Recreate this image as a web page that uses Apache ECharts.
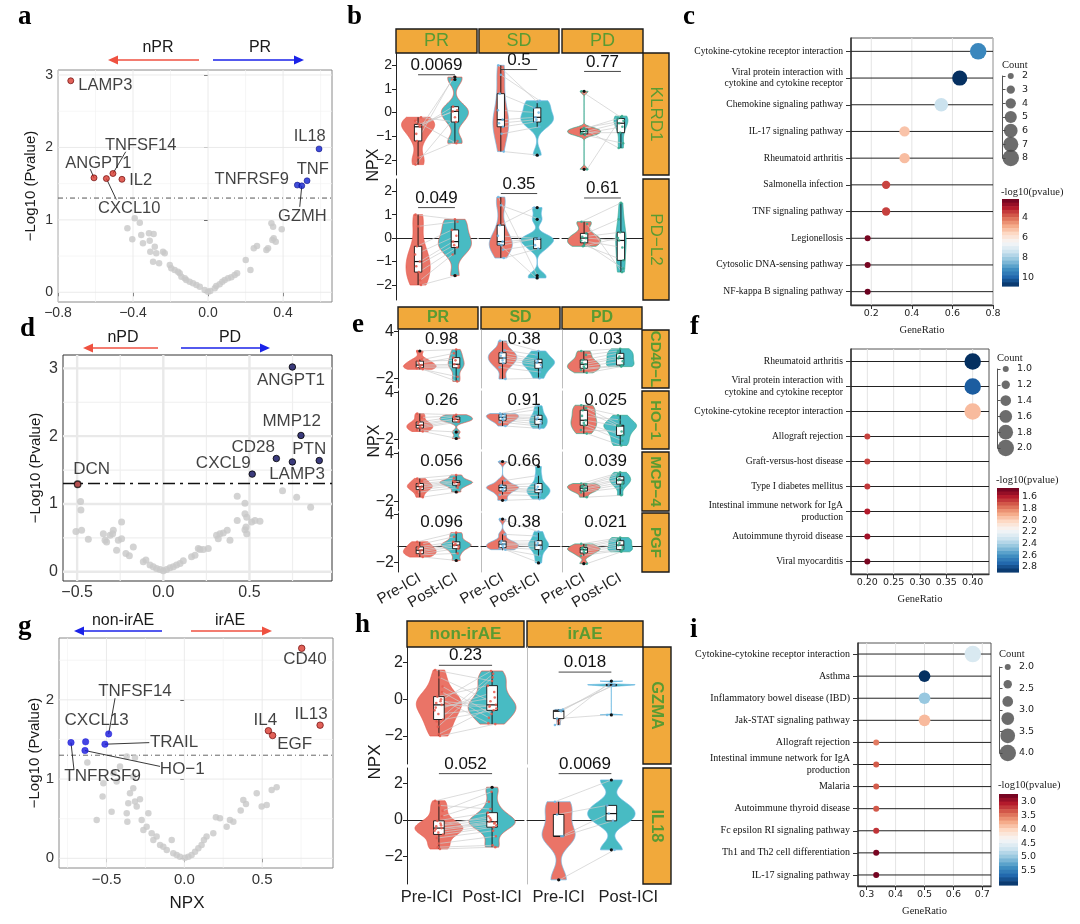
<!DOCTYPE html>
<html><head><meta charset="utf-8">
<script src="https://cdn.jsdelivr.net/npm/echarts@6/dist/echarts.min.js"></script>
<style>html,body{margin:0;padding:0;background:#fff}#c{width:1080px;height:924px}</style>
</head><body><div id="c"></div>
<script>
const FONT = '"Liberation Sans", Arial, sans-serif';
const SERIF = '"Liberation Serif", "Times New Roman", serif';
const DJV = '"DejaVu Sans", sans-serif';

/* ================= DATA ================= */
// ---- panel a (volcano: nPR vs PR) ----
const aGrey = [[-0.43,0.883],[-0.404,0.731],[-0.391,1.021],[-0.364,0.961],[-0.356,0.791],[-0.347,0.676],[-0.315,0.814],[-0.311,0.713],[-0.29,0.805],[-0.284,0.63],[-0.308,0.561],[-0.276,0.538],[-0.293,0.423],[-0.261,0.4],[-0.24,0.561],[-0.231,0.538],[-0.204,0.377],[-0.196,0.331],[-0.178,0.308],[-0.16,0.285],[-0.151,0.262],[-0.142,0.216],[-0.124,0.193],[-0.116,0.17],[-0.098,0.147],[-0.08,0.124],[-0.062,0.101],[-0.044,0.078],[-0.018,0.032],[0.0,0.009],[0.012,0.018],[0.036,0.055],[0.044,0.087],[0.062,0.11],[0.076,0.147],[0.089,0.17],[0.107,0.193],[0.124,0.207],[0.142,0.239],[0.155,0.262],[0.201,0.446],[0.226,0.308],[0.244,0.607],[0.261,0.639],[0.311,0.584],[0.32,0.607],[0.343,0.722],[0.35,0.745],[0.338,0.952],[0.347,0.906],[0.361,0.699],[0.393,0.869]];
const aGenes = ['LAMP3','ANGPT1','CXCL10','TNFSF14','IL2','IL18','TNF','TNFRSF9','GZMH'];
const aX = [-0.732,-0.608,-0.542,-0.507,-0.459,0.592,0.528,0.476,0.5];
const aY = [2.92,1.58,1.57,1.64,1.56,1.98,1.54,1.48,1.47];
const aUp = [0,0,0,0,0,1,1,1,1];
const aLabX = [-0.548,-0.585,-0.42,-0.359,-0.359,0.542,0.558,0.233,0.503];
const aLabY = [2.85,1.78,1.16,2.03,1.54,2.15,1.69,1.56,1.05];
const aLead = [null,[-0.628,1.70],[-0.489,1.28],[-0.439,1.94],null,null,null,null,[0.489,1.18]];

// ---- panel d (volcano: nPD vs PD) ----
const dGrey = [[-0.507,0.595],[-0.48,1.034],[-0.478,0.912],[-0.474,0.61],[-0.435,0.478],[-0.348,0.561],[-0.338,0.463],[-0.329,0.439],[-0.309,0.537],[-0.294,0.561],[-0.271,0.317],[-0.261,0.463],[-0.242,0.488],[-0.29,0.61],[-0.242,0.732],[-0.217,0.268],[-0.197,0.234],[-0.174,0.366],[-0.116,0.146],[-0.101,0.171],[-0.077,0.098],[-0.058,0.073],[-0.039,0.049],[-0.019,0.034],[0.0,0.015],[0.019,0.034],[0.039,0.059],[0.058,0.073],[0.077,0.098],[0.097,0.122],[0.116,0.161],[0.164,0.22],[0.184,0.244],[0.203,0.341],[0.213,0.327],[0.232,0.327],[0.261,0.341],[0.309,0.537],[0.319,0.488],[0.329,0.561],[0.348,0.571],[0.371,0.61],[0.387,0.463],[0.429,1.112],[0.474,1.01],[0.429,0.756],[0.484,0.805],[0.48,0.659],[0.484,0.561],[0.474,0.62],[0.513,0.732],[0.532,0.756],[0.561,0.746],[0.692,1.195],[0.774,1.098],[0.855,0.951],[0.474,0.854]];
const dGenes = ['ANGPT1','MMP12','CD28','LAMP3','PTN','CXCL9','DCN'];
const dX = [0.749,0.799,0.656,0.749,0.905,0.516,-0.497];
const dY = [3.02,2.01,1.67,1.62,1.64,1.44,1.29];
const dUp = [1,1,1,1,1,1,0];
const dLabX = [0.741,0.745,0.522,0.776,0.847,0.348,-0.416];
const dLabY = [2.83,2.22,1.83,1.44,1.80,1.60,1.51];

// ---- panel g (volcano: non-irAE vs irAE) ----
const gGrey = [[-0.623,1.208],[-0.563,0.484],[-0.525,0.779],[-0.52,0.947],[-0.467,0.589],[-0.456,1.074],[-0.37,0.568],[-0.366,0.463],[-0.36,0.695],[-0.349,0.821],[-0.328,0.884],[-0.317,0.716],[-0.306,0.653],[-0.285,0.745],[-0.274,0.484],[-0.263,0.358],[-0.242,0.4],[-0.231,0.568],[-0.21,0.316],[-0.199,0.232],[-0.178,0.274],[-0.156,0.168],[-0.135,0.147],[-0.113,0.105],[-0.081,0.232],[-0.071,0.063],[-0.049,0.042],[-0.028,0.021],[0.004,0.008],[0.026,0.021],[0.047,0.042],[0.069,0.084],[0.09,0.126],[0.111,0.168],[0.126,0.232],[0.143,0.274],[0.186,0.316],[0.203,0.518],[0.229,0.505],[0.272,0.4],[0.293,0.484],[0.315,0.463],[0.362,0.602],[0.379,0.737],[0.396,0.686],[0.465,0.821],[0.497,0.653],[0.529,0.674],[0.561,0.863],[0.593,0.897],[-0.37,1.284],[-0.413,1.158],[-0.317,1.27],[-0.435,0.968],[-0.328,1.032]];
const gGenes = ['TNFRSF9','CXCL13','HO\u22121','TNFSF14','TRAIL','CD40','IL13','IL4','EGF'];
const gX = [-0.728,-0.634,-0.638,-0.486,-0.51,0.754,0.872,0.54,0.567];
const gY = [1.46,1.47,1.36,1.57,1.44,2.65,1.68,1.61,1.55];
const gUp = [0,0,0,0,0,1,1,1,1];
const gLabX = [-0.525,-0.563,-0.013,-0.317,-0.066,0.775,0.814,0.52,0.709];
const gLabY = [1.03,1.74,1.12,2.11,1.47,2.51,1.82,1.74,1.44];
const gLead = [[-0.709,1.12],null,[-0.156,1.16],[-0.445,2.02],[-0.225,1.46],null,null,null,null];

// ---- panel c (KEGG, PR) ----
const cTerms = ['Cytokine-cytokine receptor interaction','Viral protein interaction with\ncytokine and cytokine receptor','Chemokine signaling pathway','IL-17 signaling pathway','Rheumatoid arthritis','Salmonella infection','TNF signaling pathway','Legionellosis','Cytosolic DNA-sensing pathway','NF-kappa B signaling pathway'];
const cRatio = [0.727,0.636,0.545,0.364,0.364,0.273,0.273,0.182,0.182,0.182];
const cCount = [8,7,6,4,4,3,3,2,2,2];
const cLogP = [9.3,10.8,7.4,5.2,5.1,3.5,3.45,2.3,2.3,2.15];
const cXTicks = [0.2,0.4,0.6,0.8];
const cSizeBreaks = [2,3,4,5,6,7,8];
const cColorTicks = [4,6,8,10];

// ---- panel f (KEGG, PD) ----
const fTerms = ['Rheumatoid arthritis','Viral protein interaction with\ncytokine and cytokine receptor','Cytokine-cytokine receptor interaction','Allograft rejection','Graft-versus-host disease','Type I diabetes mellitus','Intestinal immune network for IgA\nproduction','Autoimmune thyroid disease','Viral myocarditis'];
const fRatio = [0.4,0.4,0.4,0.2,0.2,0.2,0.2,0.2,0.2];
const fCount = [2,2,2,1,1,1,1,1,1];
const fLogP = [2.89,2.77,1.94,1.68,1.68,1.66,1.60,1.565,1.486];
const fXTicks = [0.2,0.25,0.3,0.35,0.4];
const fSizeBreaks = [1.0,1.2,1.4,1.6,1.8,2.0];
const fColorTicks = [1.6,1.8,2.0,2.2,2.4,2.6,2.8];

// ---- panel i (KEGG, irAE) ----
const iTerms = ['Cytokine-cytokine receptor interaction','Asthma','Inflammatory bowel disease (IBD)','Jak-STAT signaling pathway','Allograft rejection','Intestinal immune network for IgA\nproduction','Malaria','Autoimmune thyroid disease','Fc epsilon RI signaling pathway','Th1 and Th2 cell differentiation','IL-17 signaling pathway'];
const iRatio = [0.667,0.5,0.5,0.5,0.333,0.333,0.333,0.333,0.333,0.333,0.333];
const iCount = [4,3,3,3,2,2,2,2,2,2,2];
const iLogP = [4.63,6.02,5.0,3.84,3.51,3.36,3.36,3.35,3.18,2.8,2.78];
const iXTicks = [0.3,0.4,0.5,0.6,0.7];
const iSizeBreaks = [2.0,2.4,2.8,3.2,3.6,4.0];
const iSizeTicks = [2.0,2.5,3.0,3.5,4.0];
const iColorTicks = [3.0,3.5,4.0,4.5,5.0,5.5];

// ---- panel b (paired NPX, columns PR / SD / PD) ----
const bKLRD1_pre  = [[-0.6,-2.2,-0.5,-1.2,-0.2,-0.9,-1.9,-0.55,-0.35],[-0.3,2.0,-0.9,0.8,-1.65,-0.45,1.6,-0.6,0.1],[-0.8,0.9,-0.95,-0.7,-2.4,-0.85,-0.65,-0.75,-0.9]];
const bKLRD1_post = [[0.25,-0.2,0.1,1.4,-0.4,1.5,-1.2,0.05,-1.3],[-0.2,0.45,-0.6,0.2,-1.8,-0.3,0.5,-0.4,0.0],[-0.45,-0.2,-1.3,-0.25,-0.15,-0.85,-0.35,-1.5,-0.6]];
const bPDL2_pre   = [[-1.0,1.0,-1.45,-0.35,-2.0,-1.2,0.5,-1.8,-0.7],[-0.15,1.75,-0.3,0.55,-0.85,-0.25,1.4,-0.5,0.1],[0.0,0.7,-0.2,-0.35,0.6,0.05,-0.3,0.2,-0.1]];
const bPDL2_post  = [[-0.15,0.8,-0.4,0.35,-1.6,-0.3,0.7,-0.7,0.1],[-0.05,-1.6,0.0,1.3,-0.45,-1.7,0.8,-0.3,-0.02],[-0.1,1.5,-1.3,0.0,-1.45,0.25,-0.95,0.8,-0.4]];
const bPval = [['0.0069','0.5','0.77'],['0.049','0.35','0.61']];
const bPvalY = [[1.6,1.82,1.74],[1.3,1.9,1.71]];

// ---- panel e ----
const eCD40L_pre  = [[-0.3,1.5,-0.65,-0.1,-0.85,0.2,-0.45,0.4,-0.7],[0.6,2.8,-0.08,1.28,-2.1,0.9,0.3,1.6,-0.6],[-0.2,1.5,-0.72,0.35,-1.3,0.0,-0.5,1.0,-0.9]];
const eCD40L_post = [[-0.2,1.7,-0.65,0.65,-2.4,0.3,-0.4,1.2,-1.8],[0.0,1.5,-0.72,0.44,-2.0,0.2,-0.3,1.0,-1.2],[0.56,1.8,-0.3,1.2,-0.5,0.8,0.2,1.5,-0.4]];
const eHO1_pre    = [[-0.2,1.3,-0.55,0.22,-1.0,0.0,-0.4,0.8,-0.8],[0.82,1.3,0.44,1.17,-0.3,0.9,0.6,1.2,0.2],[0.44,2.37,-0.2,1.72,-1.27,1.0,0.1,2.0,-0.8]];
const eHO1_post   = [[0.56,1.15,0.22,0.86,-1.9,0.6,0.4,1.0,-1.07],[0.56,2.3,-0.08,1.08,-0.6,0.8,0.3,1.8,-0.3],[-0.3,-0.2,-2.2,-0.25,-2.8,0.5,-1.5,1.08,-1.0]];
const eMCP4_pre   = [[-0.17,0.86,-0.55,0.22,-1.5,0.0,-0.3,0.5,-0.9],[-0.3,3.0,-0.72,0.0,-1.9,-0.1,-0.5,0.6,-1.2],[-0.37,0.22,-0.72,-0.08,-1.5,-0.2,-0.5,0.1,-0.9]];
const eMCP4_post  = [[0.35,1.3,0.0,0.56,-0.85,0.45,0.2,0.9,-0.3],[-0.55,2.37,-0.94,0.22,-1.75,-0.2,-0.7,1.2,-1.3],[0.65,1.63,0.14,1.08,-1.27,0.8,0.4,1.4,-0.3]];
const ePGF_pre    = [[-0.5,0.56,-0.94,-0.08,-1.36,-0.3,-0.7,0.3,-1.1],[0.27,3.43,-0.17,0.65,-0.43,0.4,0.1,1.5,-0.3],[-0.43,0.3,-0.85,-0.17,-2.2,-0.3,-0.6,0.1,-1.2]];
const ePGF_post   = [[0.14,1.72,-0.3,0.56,-1.8,0.3,0.0,1.2,-0.9],[0.14,1.85,-0.42,0.7,-2.1,0.4,-0.1,1.3,-1.2],[0.14,1.1,-0.42,0.7,-0.7,0.4,-0.1,0.9,-0.5]];
const ePval = [['0.98','0.38','0.03'],['0.26','0.91','0.025'],['0.056','0.66','0.039'],['0.096','0.38','0.021']];
const ePvalY = [[3.0,3.0,3.0],[3.0,3.0,3.0],[3.0,3.0,3.0],[3.0,3.0,3.0]];

// ---- panel h (columns non-irAE / irAE) ----
const hGZMA_pre  = [[-0.3,1.6,-2.0,0.15,-1.1,-0.2,-1.9,0.4,-0.6,-0.1,-1.5,0.7,-0.45,0.0,-1.2,1.2,-0.8],[-0.65,-1.4,-0.6,-1.05,-0.55]];
const hGZMA_post = [[-0.4,1.0,-1.35,0.75,-0.6,1.55,-0.3,-1.0,0.4,-0.35,1.2,-0.8,0.1,-1.3,1.4,-0.1,-0.5],[0.8,1.0,0.8,-0.85,0.75]];
const hIL18_pre  = [[-0.45,1.05,-1.6,-0.05,-0.8,-0.35,-1.3,0.2,-0.6,-0.2,-1.5,0.5,-0.5,-0.3,-1.0,0.8,-0.7],[-0.9,1.0,-3.3,0.3,-0.9]];
const hIL18_post = [[-0.1,1.8,-1.5,0.4,-0.4,0.0,-0.9,1.0,-0.2,0.1,-1.4,1.55,-0.15,0.2,-0.6,0.6,-0.3],[0.35,2.2,-1.65,0.8,-0.05]];
const hPval = [['0.23','0.018'],['0.052','0.0069']];
const hPvalY = [[1.86,1.49],[2.55,2.55]];

/* ================= HELPERS ================= */
const grids = [], xAxes = [], yAxes = [], series = [], graphics = [];
const JIT = [0.05,-0.07,0.02,-0.03,0.08,-0.05,0.0,0.06,-0.08,0.03,-0.02,0.07,-0.06,0.04,-0.04,0.01,-0.01];
const FILL_PRE = '#EA7467', FILL_POST = '#48BBC3';
const STRIP = '#F1A93B', STRIP_TXT = '#5a9b32';
const RDBU = ['#67001f','#b2182b','#d6604d','#f4a582','#fddbc7','#f7f7f7','#d1e5f0','#92c5de','#4393c3','#2166ac','#053061'];

function addGrid(g, xa, ya) {
  const i = grids.length; grids.push(g);
  xa.gridIndex = i; ya.gridIndex = i; xAxes.push(xa); yAxes.push(ya); return i;
}
function minus(v, d) { const s = d == null ? String(Math.abs(v)) : Math.abs(v).toFixed(d); return (v < 0 ? '\u2212' : '') + s; }
function hex2rgb(h) { return [parseInt(h.slice(1,3),16), parseInt(h.slice(3,5),16), parseInt(h.slice(5,7),16)]; }
function pal(t) {
  t = Math.max(0, Math.min(1, t)); const s = t * 10; const i = Math.min(9, Math.floor(s)); const f = s - i;
  const a = hex2rgb(RDBU[i]), b = hex2rgb(RDBU[i+1]);
  return 'rgb(' + a.map((v,k) => Math.round(v + (b[k]-v)*f)).join(',') + ')';
}
function gText(x, y, text, o) {
  o = o || {};
  graphics.push({type:'text', x:x, y:y, rotation:o.rot||0, silent:true, z:10,
    style:{text:text, fill:o.color||'#1a1a1a', fontSize:o.size||14, fontFamily:o.font||FONT, fontWeight:o.bold?'bold':'normal', align:o.align||'center', verticalAlign:o.va||'middle'}});
}
function gLine(x1,y1,x2,y2,color,w) { graphics.push({type:'line', silent:true, shape:{x1,y1,x2,y2}, style:{stroke:color, lineWidth:w}}); }
function gArrow(x1, x2, y, color) {
  const dir = x2 > x1 ? 1 : -1;
  gLine(x1, y, x2 - dir*7, y, color, 1.6);
  graphics.push({type:'polygon', silent:true, shape:{points:[[x2,y],[x2-dir*10,y-4.5],[x2-dir*10,y+4.5]]}, style:{fill:color}});
}
function gStrip(x0, y0, x1, y1, text, vertical, bold, size) {
  graphics.push({type:'rect', silent:true, shape:{x:x0, y:y0, width:x1-x0, height:y1-y0}, style:{fill:STRIP, stroke:'#1a1a1a', lineWidth:1.4}});
  gText((x0+x1)/2, (y0+y1)/2, text, {color:STRIP_TXT, size:size, bold:bold, rot: vertical ? -Math.PI/2 : 0});
}
// reference lines drawn through the grid's own scales, under the marks
function guideSeries(gi, x0, y0, lines) {
  series.push({type:'custom', xAxisIndex:gi, yAxisIndex:gi, data:[[x0, y0]], silent:true, z:1,
    renderItem: (params, api) => {
      const cs = params.coordSys, ch = [];
      lines.forEach(l => {
        const st = {stroke:l.color, lineWidth:l.width, lineDash:l.dash || null};
        if (l.x !== undefined) {
          const px = api.coord([l.x, y0])[0];
          ch.push({type:'line', shape:{x1:px, y1:cs.y, x2:px, y2:cs.y + cs.height}, style:st});
        } else {
          const py = api.coord([x0, l.y])[1];
          ch.push({type:'line', shape:{x1:cs.x, y1:py, x2:cs.x + cs.width, y2:py}, style:st});
        }
      });
      return {type:'group', children:ch};
    }});
}
function quant(s, p) { const h = (s.length-1)*p; const lo = Math.floor(h); const hi = Math.ceil(h); return s[lo] + (s[hi]-s[lo])*(h-lo); }
function boxStats(v) {
  const s = v.slice().sort((a,b)=>a-b);
  const q1 = quant(s,0.25), q2 = quant(s,0.5), q3 = quant(s,0.75), iqr = q3-q1;
  const lf = q1 - 1.5*iqr, uf = q3 + 1.5*iqr;
  const inside = s.filter(x => x >= lf && x <= uf);
  return {q1, q2, q3, lo: inside[0], hi: inside[inside.length-1], out: s.filter(x => x < lf || x > uf)};
}
function kde(v) {
  const s = v.slice().sort((a,b)=>a-b), n = s.length;
  const mean = s.reduce((a,b)=>a+b,0)/n;
  const sd = Math.sqrt(s.reduce((a,b)=>a+(b-mean)*(b-mean),0)/(n-1));
  const iqr = quant(s,0.75) - quant(s,0.25);
  let lo = Math.min(sd, iqr/1.34); if (!(lo > 0)) lo = sd > 0 ? sd : 0.1;
  const bw = 0.9*lo*Math.pow(n,-0.2);
  const pts = [], N = 140;
  for (let k = 0; k <= N; k++) {
    const y = s[0] + (s[n-1]-s[0])*k/N; let d = 0;
    for (const x of s) { const z = (y-x)/bw; d += Math.exp(-0.5*z*z); }
    pts.push([y, d/(n*bw*Math.sqrt(2*Math.PI))]);
  }
  return pts;
}

/* ---------- violin facet ---------- */
function violinRender(pre, post, accent, pText, pY, withLine, pFs, px) {
  return function (params, api) {
    const groups = [pre, post], fills = [FILL_PRE, FILL_POST];
    const dens = groups.map(kde);
    let maxD = 0; dens.forEach(d => d.forEach(p => { if (p[1] > maxD) maxD = p[1]; }));
    const ch = [];
    groups.forEach((g, gi) => {
      const xc = gi + 1, d = dens[gi];
      const right = d.map(p => api.coord([xc + 0.45*p[1]/maxD, p[0]]));
      const left = d.slice().reverse().map(p => api.coord([xc - 0.45*p[1]/maxD, p[0]]));
      ch.push({type:'polygon', shape:{points:right.concat(left)}, style:{fill:fills[gi], stroke:accent, lineWidth:0.7}});
    });
    const n = Math.min(pre.length, post.length);
    for (let i = 0; i < n; i++) {
      const p1 = api.coord([1 + JIT[i % JIT.length], pre[i]]);
      const p2 = api.coord([2 + JIT[(i+5) % JIT.length], post[i]]);
      ch.push({type:'line', shape:{x1:p1[0], y1:p1[1], x2:p2[0], y2:p2[1]}, style:{stroke:'#cdcdcd', lineWidth:0.7}});
    }
    const outs = [];
    groups.forEach((g, gi) => {
      const s = boxStats(g), xc = gi + 1;
      const w1 = api.coord([xc, s.hi]), w2 = api.coord([xc, s.q3]), w3 = api.coord([xc, s.q1]), w4 = api.coord([xc, s.lo]);
      ch.push({type:'line', shape:{x1:w1[0], y1:w1[1], x2:w2[0], y2:w2[1]}, style:{stroke:'#111', lineWidth:0.9}});
      ch.push({type:'line', shape:{x1:w3[0], y1:w3[1], x2:w4[0], y2:w4[1]}, style:{stroke:'#111', lineWidth:0.9}});
      const a = api.coord([xc-0.1, s.q3]), b = api.coord([xc+0.1, s.q1]);
      ch.push({type:'rect', shape:{x:a[0], y:a[1], width:b[0]-a[0], height:Math.max(0.5, b[1]-a[1])}, style:{fill:'#fff', stroke:'#111', lineWidth:0.9}});
      const m1 = api.coord([xc-0.1, s.q2]), m2 = api.coord([xc+0.1, s.q2]);
      ch.push({type:'line', shape:{x1:m1[0], y1:m1[1], x2:m2[0], y2:m2[1]}, style:{stroke:'#111', lineWidth:1.2}});
      s.out.forEach(v => outs.push(api.coord([xc, v])));
    });
    groups.forEach((g, gi) => g.forEach((v, i) => {
      const p = api.coord([gi + 1 + JIT[(gi ? i+5 : i) % JIT.length], v]);
      ch.push({type:'circle', shape:{cx:p[0], cy:p[1], r:1.3}, style:{fill:accent, opacity:0.85}});
    }));
    outs.forEach(p => ch.push({type:'circle', shape:{cx:p[0], cy:p[1], r:1.6}, style:{fill:'#111'}}));
    if (withLine) {
      const l1 = api.coord([1, pY]), l2 = api.coord([2, pY]);
      ch.push({type:'line', shape:{x1:l1[0], y1:l1[1], x2:l2[0], y2:l2[1]}, style:{stroke:'#333', lineWidth:0.9}});
      const t = api.coord([1.5, pY]);
      ch.push({type:'text', x:t[0], y:t[1]-1, style:{text:pText, fill:'#111', fontSize:pFs, fontFamily:FONT, align:'center', verticalAlign:'bottom'}});
    } else {
      const t = api.coord([px, pY]);
      ch.push({type:'text', x:t[0], y:t[1], style:{text:pText, fill:'#111', fontSize:pFs, fontFamily:FONT, align:'center', verticalAlign:'middle'}});
    }
    return {type:'group', children:ch};
  };
}

function facetSet(cfg) {
  cfg.rows.forEach((row, r) => {
    cfg.cols.forEach((col, c) => {
      const isBottom = r === cfg.rows.length - 1, isLeft = c === 0;
      const padR = cfg.prePad ? cfg.prePad[c] : 0, padL = cfg.postPad ? cfg.postPad[c] : 0;
      const gi = addGrid({left:col[0], top:row[0], width:col[1]-col[0], height:row[1]-row[0]},
        {type:'value', min:0.4, max:2.6,
          axisLine:{show:isBottom, lineStyle:{color:'#222', width:1}},
          axisTick:{show:isBottom, length:4, customValues:[1,2], lineStyle:{color:'#222'}},
          axisLabel: (isBottom && cfg.xLab) ? {show:true, hideOverlap:false, customValues:[1,2],
              formatter: v => v === 1 ? '{p|Pre-ICI}' : '{q|Post-ICI}',
              rich:{p:{fontSize:cfg.xFs, fontFamily:FONT, color:'#222', padding:[0, padR, 0, 0]}, q:{fontSize:cfg.xFs, fontFamily:FONT, color:'#222', padding:[0, 0, 0, padL]}},
              rotate:cfg.xRot||0, fontSize:cfg.xFs, color:'#222', fontFamily:FONT, margin:5} : {show:false},
          splitLine:{show:false}},
        {type:'value', min:cfg.ymin, max:cfg.ymax,
          axisLine:{show: isLeft || cfg.inner, lineStyle:{color: isLeft ? '#222' : '#bdbdbd', width:1}},
          axisTick:{show:isLeft, length:4, customValues:cfg.yTicks, lineStyle:{color:'#222'}},
          axisLabel: isLeft ? {show:true, customValues:cfg.yTicks, formatter: v => minus(v), fontSize:cfg.yFs, color:'#222', fontFamily:FONT, margin:4} : {show:false},
          splitLine:{show:false}});
      series.push({type:'custom', xAxisIndex:gi, yAxisIndex:gi, data:[[1.5, 0]], silent:true, z:3,
        renderItem: violinRender(cfg.pre[r][c], cfg.post[r][c], cfg.accent[c], cfg.pv[r][c], cfg.py[r][c], cfg.pLine, cfg.pFs, cfg.px)});
    });
  });
  cfg.cols.forEach((col, c) => gStrip(col[0], cfg.stripTop[0], col[1], cfg.stripTop[1], cfg.colNames[c], false, cfg.bold, cfg.topFs));
  cfg.rows.forEach((row, r) => gStrip(cfg.stripRight[0], row[0], cfg.stripRight[1], row[1], cfg.rowNames[r], true, cfg.bold, cfg.rightFs));
}

/* ---------- volcano ---------- */
function volcano(cfg) {
  const gi = addGrid({left:cfg.L, top:cfg.T, width:cfg.W, height:cfg.H, show:true, borderColor:cfg.border, borderWidth:1, backgroundColor:'#fff'},
    {type:'value', min:cfg.xmin, max:cfg.xmax, axisLine:{show:false},
      axisTick:{show:true, length:4, customValues:cfg.xTicks, lineStyle:{color:'#333'}},
      axisLabel:{customValues:cfg.xTicks, formatter: v => minus(v, 1), fontSize:cfg.xfs, color:'#333', fontFamily:FONT, margin:4}, splitLine:{show:false}},
    {type:'value', min:cfg.ymin, max:cfg.ymax, axisLine:{show:false},
      axisTick:{show:true, length:4, customValues:cfg.yTicks, lineStyle:{color:'#333'}},
      axisLabel:{customValues:cfg.yTicks, formatter: v => String(v), fontSize:cfg.yfs, color:'#333', fontFamily:FONT, margin:5}, splitLine:{show:false}});
  const gl = [];
  cfg.xMinor.forEach(v => gl.push({x:v, color:cfg.gMin, width:cfg.wMin}));
  cfg.yMinor.forEach(v => gl.push({y:v, color:cfg.gMin, width:cfg.wMin}));
  cfg.xTicks.forEach(v => gl.push({x:v, color:cfg.gMaj, width:cfg.wMaj}));
  cfg.yTicks.forEach(v => gl.push({y:v, color:cfg.gMaj, width:cfg.wMaj}));
  gl.push({y:-Math.log10(0.05), color:cfg.thr, width:cfg.thrW, dash:cfg.thrDash});
  guideSeries(gi, cfg.xmin, cfg.ymin, gl);
  series.push({type:'scatter', xAxisIndex:gi, yAxisIndex:gi, data:cfg.grey, symbolSize:cfg.greySize, silent:true, z:2,
    itemStyle:{color:'#c8c8c8'}});
  if (cfg.lead) {
    const segs = [];
    cfg.lead.forEach((e, i) => { if (e) segs.push({coords:[[cfg.x[i], cfg.y[i]], e]}); });
    series.push({type:'lines', coordinateSystem:'cartesian2d', xAxisIndex:gi, yAxisIndex:gi, silent:true, z:3,
      lineStyle:{color:'#222', width:0.9, opacity:1}, data:segs});
  }
  [0,1].forEach(side => {
    const pts = [];
    cfg.genes.forEach((g, i) => { if (cfg.up[i] === side) pts.push({name:g, value:[cfg.x[i], cfg.y[i]]}); });
    series.push({type:'scatter', xAxisIndex:gi, yAxisIndex:gi, data:pts, symbolSize:cfg.sigSize, silent:true, z:4,
      itemStyle:{color:cfg.colors[side], borderColor:cfg.borders[side], borderWidth:cfg.bw[side]}});
  });
  series.push({type:'scatter', xAxisIndex:gi, yAxisIndex:gi, silent:true, z:5, symbolSize:1, itemStyle:{color:'rgba(0,0,0,0)'},
    data:cfg.genes.map((g, i) => ({name:g, value:[cfg.labX[i], cfg.labY[i]]})),
    label:{show:true, position:'inside', formatter:'{b}', fontSize:cfg.labFs, color:'#111', fontFamily:FONT}});
}

/* ---------- dot plot ---------- */
function sizeFn(lo, hi) { return v => 6 + 10.5*(Math.sqrt(v)-Math.sqrt(lo))/(Math.sqrt(hi)-Math.sqrt(lo)); }
function dotplot(cfg) {
  const sz = sizeFn(cfg.sizeBreaks[0], cfg.sizeBreaks[cfg.sizeBreaks.length-1]);
  const colorOf = v => pal((v - cfg.vmin)/(cfg.vmax - cfg.vmin));
  const gi = addGrid({left:cfg.L, top:cfg.T, width:cfg.W, height:cfg.H, show:true, borderColor:'#555', borderWidth:1, backgroundColor:'#fff'},
    {type:'value', min:cfg.xmin, max:cfg.xmax,
      axisLine:{show:true, lineStyle:{color:'#333', width:1.3}},
      axisTick:{show:true, length:4, customValues:cfg.xTicks, lineStyle:{color:'#333'}},
      axisLabel:{customValues:cfg.xTicks, formatter: v => v.toFixed(cfg.xDec), fontSize:9.5, color:'#222', fontFamily:DJV, margin:4},
      splitLine:{show:false},
      name:'GeneRatio', nameLocation:'middle', nameGap:cfg.nameGap, nameTextStyle:{fontFamily:SERIF, fontSize:10.5, color:'#222'}},
    {type:'category', data:cfg.terms, inverse:true,
      axisLine:{show:true, lineStyle:{color:'#333', width:1.5}},
      axisTick:{show:true, length:5, alignWithLabel:true, lineStyle:{color:'#333'}},
      axisLabel:{fontFamily:SERIF, fontSize:cfg.labFs, color:'#111', margin:8, lineHeight:11.5, align:'right'},
      splitLine:{show:false}});
  const gl = [];
  cfg.xTicks.forEach(v => gl.push({x:v, color:'#e4e4e4', width:1}));
  cfg.terms.forEach((t, i) => gl.push({y:i, color:'#222', width:1}));
  guideSeries(gi, cfg.xmin, 0, gl);
  series.push({type:'scatter', xAxisIndex:gi, yAxisIndex:gi, silent:true, z:20,
    data:cfg.terms.map((t, i) => [cfg.ratio[i], i, cfg.count[i], cfg.logp[i]]),
    symbolSize: v => sz(v[2]), itemStyle:{color: p => colorOf(p.value[3]), opacity:1}});
  // size legend
  gText(cfg.legX, cfg.cntY, 'Count', {font:SERIF, size:10.5, align:'left', color:'#222'});
  const lg = addGrid({left:cfg.legX + 0.5, top:cfg.cntTop, width:16.5, height:cfg.cntH},
    {type:'value', min:0, max:1, show:false},
    {type:'value', min:cfg.sizeBreaks[0], max:cfg.sizeBreaks[cfg.sizeBreaks.length-1], inverse:true, position:'right',
      axisLine:{show:true, lineStyle:{color:'#555', width:1}},
      axisTick:{show:true, length:3, customValues:cfg.sizeTicks, lineStyle:{color:'#555'}},
      axisLabel:{customValues:cfg.sizeTicks, formatter: v => v.toFixed(cfg.sDec), fontSize:9.5, color:'#222', fontFamily:DJV, margin:3},
      splitLine:{show:false}});
  series.push({type:'scatter', xAxisIndex:lg, yAxisIndex:lg, silent:true, z:3,
    data:cfg.sizeBreaks.map(v => [0.5, v]), symbolSize: v => sz(v[1]), itemStyle:{color:'#474747'}});
  // colour bar
  gText(cfg.legX - 1, cfg.cbTitleY, '-log10(pvalue)', {font:SERIF, size:10.5, align:'left', color:'#222'});
  const cb = addGrid({left:cfg.legX, top:cfg.cbTop, width:cfg.cbW, height:cfg.cbH},
    {type:'value', min:0, max:1, show:false},
    {type:'value', min:cfg.vmin, max:cfg.vmax, inverse:true, position:'right',
      axisLine:{show:false},
      axisTick:{show:true, length:3, customValues:cfg.colorTicks, lineStyle:{color:'#333'}},
      axisLabel:{customValues:cfg.colorTicks, formatter: v => v.toFixed(cfg.cDec), fontSize:9.5, color:'#222', fontFamily:DJV, margin:3},
      splitLine:{show:false}});
  series.push({type:'custom', xAxisIndex:cb, yAxisIndex:cb, silent:true, z:3, data:[[0.5, cfg.vmin]],
    renderItem: (params, api) => {
      const ch = [], N = 24;
      for (let k = 0; k < N; k++) {
        const v0 = cfg.vmin + (cfg.vmax-cfg.vmin)*k/N, v1 = cfg.vmin + (cfg.vmax-cfg.vmin)*(k+1)/N;
        const p0 = api.coord([0, v0]), p1 = api.coord([1, v1]);
        ch.push({type:'rect', shape:{x:p0[0], y:Math.min(p0[1],p1[1]), width:p1[0]-p0[0], height:Math.abs(p1[1]-p0[1])+0.6},
          style:{fill:colorOf((v0+v1)/2)}});
      }
      return {type:'group', children:ch};
    }});
}

/* ================= BUILD ================= */
// ---- a ----
volcano({L:58, T:70, W:274, H:232, xmin:-0.8, xmax:0.661, ymin:-0.134, ymax:3.069,
  xTicks:[-0.8,-0.4,0,0.4], yTicks:[0,1,2,3], xMinor:[-0.6,-0.2,0.2,0.6], yMinor:[0.5,1.5,2.5],
  border:'#8a8a8a', gMaj:'#e8e8e8', wMaj:0.9, gMin:'#f2f2f2', wMin:0.7, thr:'#555', thrW:1, thrDash:[5,3,1,3],
  xfs:14, yfs:14, grey:aGrey, greySize:6.5, genes:aGenes, x:aX, y:aY, up:aUp, labX:aLabX, labY:aLabY, lead:aLead,
  sigSize:6, colors:['#d93a2e','#1020d0'], borders:['#6e0b0b','#000070'], bw:[0.9,0.6], labFs:16.5});
gText(18, 31, 'a', {font:SERIF, size:27, bold:true, align:'left', va:'bottom', color:'#000'});
gText(158, 48, 'nPR', {size:16}); gText(260, 48, 'PR', {size:16});
gArrow(199, 108, 60, '#ef5140'); gArrow(213, 304, 60, '#1a22e8');
gText(31, 186, '\u2212Log10 (Pvalue)', {size:15, rot:Math.PI/2});

// ---- d ----
volcano({L:63, T:355, W:269, H:226, xmin:-0.582, xmax:0.979, ymin:-0.137, ymax:3.197,
  xTicks:[-0.5,0,0.5], yTicks:[0,1,2,3], xMinor:[-0.25,0.25,0.75], yMinor:[0.5,1.5,2.5],
  border:'#333', gMaj:'#e9e9e9', wMaj:2.4, gMin:'#efefef', wMin:1.2, thr:'#111', thrW:1.3, thrDash:[12,5,3,5],
  xfs:16, yfs:16, grey:dGrey, greySize:7, genes:dGenes, x:dX, y:dY, up:dUp, labX:dLabX, labY:dLabY, lead:null,
  sigSize:6.5, colors:['#a82828','#0b0b5c'], borders:['#111','#000'], bw:[1.3,1], labFs:17});
gText(20, 343, 'd', {font:SERIF, size:27, bold:true, align:'left', va:'bottom', color:'#000'});
gText(123, 338, 'nPD', {size:16}); gText(230, 338, 'PD', {size:16});
gArrow(158, 83, 348, '#ef5140'); gArrow(181, 270, 348, '#1a22e8');
gText(36, 468, '\u2212Log10 (Pvalue)', {size:15, rot:Math.PI/2});

// ---- g ----
volcano({L:59, T:638, W:274, H:230, xmin:-0.805, xmax:0.955, ymin:-0.122, ymax:2.78,
  xTicks:[-0.5,0,0.5], yTicks:[0,1,2], xMinor:[-0.75,-0.25,0.25,0.75], yMinor:[0.5,1.5,2.5],
  border:'#8a8a8a', gMaj:'#e8e8e8', wMaj:0.9, gMin:'#f2f2f2', wMin:0.7, thr:'#666', thrW:1, thrDash:[5,3,1,3],
  xfs:15, yfs:15, grey:gGrey, greySize:6.5, genes:gGenes, x:gX, y:gY, up:gUp, labX:gLabX, labY:gLabY, lead:gLead,
  sigSize:6.5, colors:['#1616dc','#d93a2e'], borders:['#1616dc','#6e0b0b'], bw:[0.5,0.9], labFs:17});
gText(18, 641, 'g', {font:SERIF, size:27, bold:true, align:'left', va:'bottom', color:'#000'});
gText(123, 621, 'non-irAE', {size:16}); gText(230, 621, 'irAE', {size:16});
gArrow(162, 74, 631, '#1a22e8'); gArrow(191, 272, 631, '#ef5140');
gText(35, 753, '\u2212Log10 (Pvalue)', {size:15, rot:Math.PI/2});
gText(187, 903, 'NPX', {size:17});

// ---- b ----
facetSet({cols:[[396,477],[479,559],[562,643]], rows:[[53,175],[179,300]], stripTop:[29,53], stripRight:[643,669],
  colNames:['PR','SD','PD'], rowNames:['KLRD1','PD\u2212L2'], bold:false, topFs:18, rightFs:17,
  ymin:-2.64, ymax:2.52, yTicks:[-2,-1,0,1,2], yFs:14, xLab:false, inner:false,
  pre:[bKLRD1_pre, bPDL2_pre], post:[bKLRD1_post, bPDL2_post], pv:bPval, py:bPvalY, pLine:true, pFs:17,
  accent:['#e5594c','#6cb7e4','#33a88c']});
gText(347, 31, 'b', {font:SERIF, size:27, bold:true, align:'left', va:'bottom', color:'#000'});
gText(374, 165, 'NPX', {size:16, rot:Math.PI/2});

// ---- e ----
facetSet({cols:[[398,478],[481,560],[562,642]], rows:[[330,388],[391,449],[452,511],[513,572]], stripTop:[307,329], stripRight:[642,669],
  colNames:['PR','SD','PD'], rowNames:['CD40\u2212L','HO\u22121','MCP\u22124','PGF'], bold:true, topFs:16, rightFs:15,
  ymin:-3.25, ymax:4.2, yTicks:[-2,4], yFs:16, xLab:true, xRot:30, xFs:15, inner:true,
  pre:[eCD40L_pre, eHO1_pre, eMCP4_pre, ePGF_pre], post:[eCD40L_post, eHO1_post, eMCP4_post, ePGF_post],
  pv:ePval, py:ePvalY, pLine:false, pFs:17, px:1.6,
  accent:['#e5594c','#6cb7e4','#33a88c']});
gText(352, 339, 'e', {font:SERIF, size:27, bold:true, align:'left', va:'bottom', color:'#000'});
gText(375, 441, 'NPX', {size:16, rot:Math.PI/2});

// ---- h ----
facetSet({cols:[[407,524],[527,643]], rows:[[647,764],[768,884]], stripTop:[621,647], stripRight:[643,671],
  colNames:['non-irAE','irAE'], rowNames:['GZMA','IL18'], bold:true, topFs:17, rightFs:16.5,
  ymin:-3.53, ymax:2.86, yTicks:[-2,0,2], yFs:16, xLab:true, xRot:0, xFs:16.5, prePad:[24,0], postPad:[0,34], inner:true,
  pre:[hGZMA_pre, hIL18_pre], post:[hGZMA_post, hIL18_post], pv:hPval, py:hPvalY, pLine:true, pFs:17,
  accent:['#e5594c','#6cb7e4']});
gText(355, 639, 'h', {font:SERIF, size:27, bold:true, align:'left', va:'bottom', color:'#000'});
gText(375, 762, 'NPX', {size:17, rot:Math.PI/2});

// ---- c ----
dotplot({L:851, T:38, W:142, H:267, xmin:0.1, xmax:0.8, xTicks:cXTicks, xDec:1, nameGap:20, labFs:9.6,
  terms:cTerms, ratio:cRatio, count:cCount, logp:cLogP, vmin:2.1, vmax:10.8,
  sizeBreaks:cSizeBreaks, sizeTicks:cSizeBreaks, sDec:0, colorTicks:cColorTicks, cDec:0,
  legX:1002, cntY:65, cntTop:76, cntH:82, cbTitleY:192, cbTop:199, cbW:17, cbH:87});
gText(683, 31, 'c', {font:SERIF, size:27, bold:true, align:'left', va:'bottom', color:'#000'});

// ---- f ----
dotplot({L:851, T:349, W:138, H:225, xmin:0.169, xmax:0.431, xTicks:fXTicks, xDec:2, nameGap:20, labFs:9.6,
  terms:fTerms, ratio:fRatio, count:fCount, logp:fLogP, vmin:1.45, vmax:2.89,
  sizeBreaks:fSizeBreaks, sizeTicks:fSizeBreaks, sDec:1, colorTicks:fColorTicks, cDec:1,
  legX:997, cntY:358, cntTop:369, cntH:79, cbTitleY:480, cbTop:488, cbW:22, cbH:84});
gText(690, 341, 'f', {font:SERIF, size:27, bold:true, align:'left', va:'bottom', color:'#000'});

// ---- i ----
dotplot({L:858, T:643, W:133, H:243, xmin:0.27, xmax:0.73, xTicks:iXTicks, xDec:1, nameGap:20, labFs:10,
  terms:iTerms, ratio:iRatio, count:iCount, logp:iLogP, vmin:2.72, vmax:6.02,
  sizeBreaks:iSizeBreaks, sizeTicks:iSizeTicks, sDec:1, colorTicks:iColorTicks, cDec:1,
  legX:999, cntY:654, cntTop:667, cntH:86, cbTitleY:785, cbTop:794, cbW:19, cbH:91});
gText(690, 644, 'i', {font:SERIF, size:27, bold:true, align:'left', va:'bottom', color:'#000'});

const chart = echarts.init(document.getElementById('c'), null, {renderer:'canvas', width:1080, height:924});
chart.setOption({
  animation:false, backgroundColor:'#fff',
  textStyle:{fontFamily:FONT},
  grid:grids, xAxis:xAxes, yAxis:yAxes, series:series, graphic:{elements:graphics}
});
</script></body></html>
